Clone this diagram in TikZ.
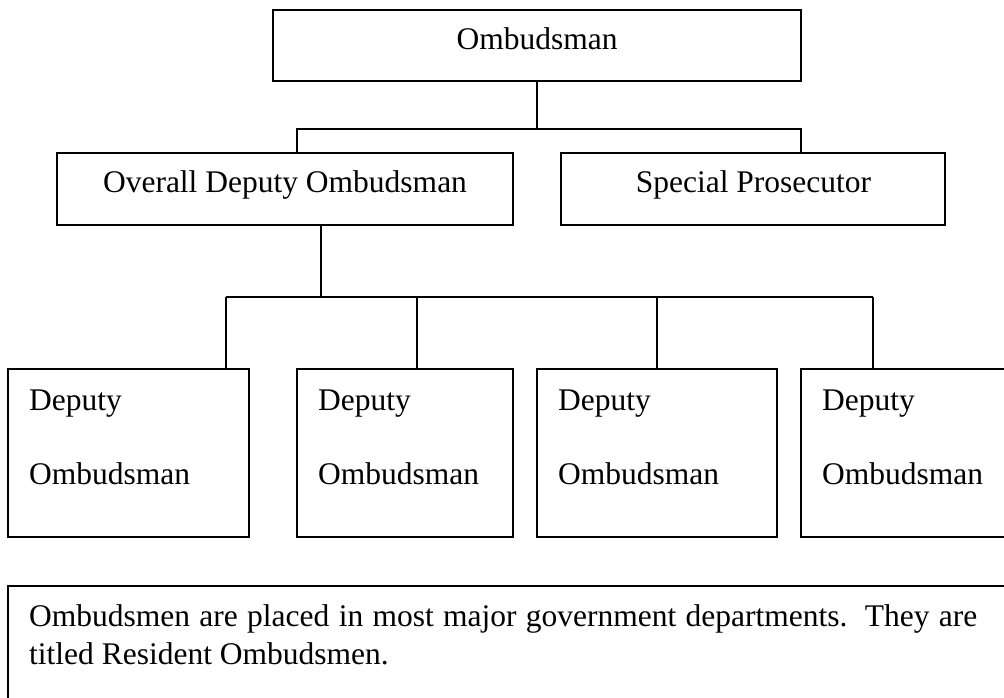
\documentclass[tikz,border=0pt]{standalone}
\usepackage{fontspec}
\setmainfont{Liberation Serif}
\begin{document}
\begin{tikzpicture}[x=1pt,y=-1pt,
  box/.style={draw,line width=1.5pt,inner sep=0pt},
  wire/.style={line width=1.5pt},
  lbl/.style={inner sep=0pt,anchor=base,font=\fontsize{31.5}{37}\selectfont},
  lbll/.style={lbl,anchor=base west}]
\useasboundingbox (0,0) rectangle (1004,698);

% top level
\node[box,minimum width=528pt,minimum height=71pt] (omb) at (537,45.5) {};
\node[lbl] (ombt) at (537,50) {Ombudsman};

% second level
\node[box,minimum width=456pt,minimum height=72pt] (ovr) at (285,189) {};
\node[lbl] (ovrt) at (285,193) {Overall Deputy Ombudsman};
\node[box,minimum width=384pt,minimum height=72pt] (spe) at (753,189) {};
\node[lbl] (spet) at (753.5,193) {Special Prosecutor};

% deputies
\node[box,minimum width=241pt,minimum height=168pt] (d1) at (128.5,453) {};
\node[box,minimum width=216pt,minimum height=168pt] (d2) at (405,453) {};
\node[box,minimum width=240pt,minimum height=168pt] (d3) at (657,453) {};
\node[box,minimum width=229pt,minimum height=168pt] (d4) at (915.5,453) {};
\foreach \d/\x in {1/29,2/318,3/558,4/822}{
  \node[lbll] (d\d a) at (\x,410) {Deputy};
  \node[lbll] (d\d b) at (\x,484) {Ombudsman};
}

% note at the bottom (first line justified)
\node[box,minimum width=1022pt,minimum height=134pt] (note) at (519,653) {};
\node[lbll] (note1) at (29,626) {\makebox[948pt][s]{Ombudsmen are placed in most major government departments.\hspace{0.55em}They are}};
\node[lbll] (note2) at (29,664) {titled Resident Ombudsmen.};

% connectors
\coordinate (busA) at (297,129);
\coordinate (busB) at (801,129);
\draw[wire] (omb.south) -- (omb.south |- busA);
\draw[wire] (ovr.north -| busA) -- (busA) -- (busB) -- (spe.north -| busB);

\coordinate (drop) at (321,297);
\coordinate (b1) at (226,297);
\coordinate (b2) at (417,297);
\coordinate (b3) at (657,297);
\coordinate (b4) at (873,297);
\draw[wire] (ovr.south -| drop) -- (drop);
\draw[wire] (b1) -- (b4);
\foreach \i in {1,...,4}{
  \draw[wire] (b\i) -- (d\i.north -| b\i);
}
\end{tikzpicture}
\end{document}
